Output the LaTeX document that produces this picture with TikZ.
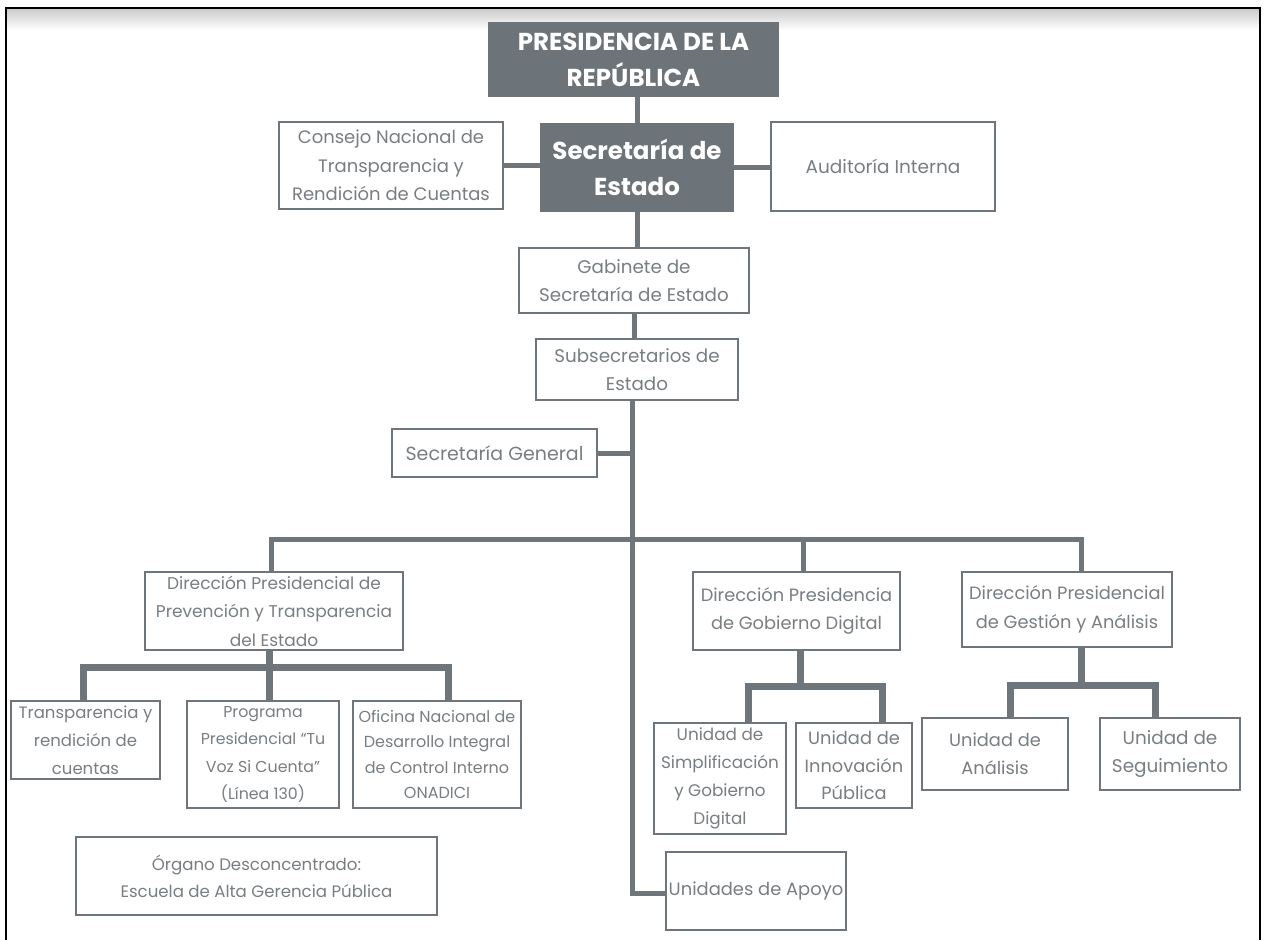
\documentclass[tikz,border=0pt]{standalone}
\usepackage{fontspec}
\setmainfont{Poppins}
\usetikzlibrary{calc}
\definecolor{boxgray}{RGB}{110,118,123}
\definecolor{darkfill}{RGB}{108,116,121}
\definecolor{txtgray}{RGB}{120,126,130}
\newcommand{\fs}[2]{\fontsize{#1}{#2}\selectfont}
\tikzset{
  orgbox/.style={draw=boxgray, line width=2.6pt, fill=white, text=txtgray, align=center, inner sep=0pt,
    font=\fs{18}{28.5}},
  darkbox/.style={fill=darkfill, draw=none, text=white, align=center, inner sep=0pt,
    font=\bfseries\fs{24.5}{36}},
  conn/.style={draw=boxgray, line width=5pt},
  subconn/.style={draw=boxgray, line width=7pt},
}
\begin{document}
\begin{tikzpicture}[x=1pt,y=-1pt]
\useasboundingbox (0,0) rectangle (1268,940);
% frame
\shade[top color=black!20, bottom color=white] (7,9) rectangle (1259,30);
\draw[black, line width=2.2pt] (6,940) -- (6,8) -- (1260,8) -- (1260,940);

% top level
\node[darkbox, minimum width=291pt, minimum height=75pt] (pres) at (633.5,59.5) {PRESIDENCIA DE LA\\REPÚBLICA};
\node[darkbox, minimum width=194pt, minimum height=89pt] (sec) at (637,167.5) {Secretaría de\\Estado};
\node[orgbox, minimum width=224pt, minimum height=87pt] (consejo) at (391,165.5) {Consejo Nacional de\\Transparencia y\\Rendición de Cuentas};
\node[orgbox, minimum width=224pt, minimum height=89pt, font=\fs{18.5}{28.5}] (audit) at (883,166.5) {Auditoría Interna};
\node[orgbox, minimum width=230pt, minimum height=65pt, font=\fs{18.3}{28.5}] (gab) at (634,280.5) {Gabinete de\\Secretaría de Estado};
\node[orgbox, minimum width=202pt, minimum height=61pt, font=\fs{18.3}{28.5}] (sub) at (637,369.5) {Subsecretarios de\\Estado};
\node[orgbox, minimum width=205pt, minimum height=48pt, font=\fs{19}{28.5}] (secgen) at (494.5,453) {Secretaría General};

% directions
\node[orgbox, minimum width=258pt, minimum height=78pt, font=\fs{17}{28.5}] (dprev) at (274,611) {Dirección Presidencial de\\Prevención y Transparencia\\del Estado};
\node[orgbox, minimum width=207pt, minimum height=78pt, font=\fs{17.8}{28.5}] (dgd) at (796.5,611) {Dirección Presidencia\\de Gobierno Digital};
\node[orgbox, minimum width=210pt, minimum height=75pt, font=\fs{17.8}{28.5}] (dges) at (1067,609.5) {Dirección Presidencial\\de Gestión y Análisis};

% units
\node[orgbox, minimum width=149pt, minimum height=78pt, font=\fs{16.5}{28}] (trans) at (85.5,740) {Transparencia y\\rendición de\\cuentas};
\node[orgbox, minimum width=152pt, minimum height=107pt, font=\fs{15.8}{27.5}] (prog) at (263,754.5) {Programa\\Presidencial “Tu\\Voz Si Cuenta”\\(Línea 130)};
\node[orgbox, minimum width=168pt, minimum height=107pt, font=\fs{16}{25.5}] (ofic) at (437,754.5) {Oficina Nacional de\\Desarrollo Integral\\de Control Interno\\ONADICI};
\node[orgbox, minimum width=361pt, minimum height=78pt, font=\fs{16.6}{27}] (organo) at (256.5,876) {Órgano Desconcentrado:\\Escuela de Alta Gerencia Pública};
\node[orgbox, minimum width=132pt, minimum height=111pt, font=\fs{16.8}{28}] (simp) at (720,778.5) {Unidad de\\Simplificación\\y Gobierno\\Digital};
\node[orgbox, minimum width=116pt, minimum height=85pt, font=\fs{17.8}{27.5}] (innov) at (854,765.5) {Unidad de\\Innovación\\Pública};
\node[orgbox, minimum width=146pt, minimum height=72pt, font=\fs{17.8}{28}] (anal) at (995,754) {Unidad de\\Análisis};
\node[orgbox, minimum width=140pt, minimum height=72pt, font=\fs{18.4}{28}] (seg) at (1170,754) {Unidad de\\Seguimiento};
\node[orgbox, minimum width=180pt, minimum height=78pt, font=\fs{17.9}{28}] (apoyo) at (756,891) {Unidades de Apoyo};

% junction points
\coordinate (bend) at (632,893);
\coordinate (jl) at (271,539);
\coordinate (jm) at (803,539);
\coordinate (jr) at (1081,539);
\coordinate (pb) at (269,667);
\coordinate (pl) at (83,667);
\coordinate (pr) at (448,667);
\coordinate (gb) at (800,686);
\coordinate (gl) at (748,686);
\coordinate (gr) at (882,686);
\coordinate (eb) at (1081,685);
\coordinate (el) at (1010,685);
\coordinate (er) at (1155,685);

% top connectors
\draw[conn] (sec.north) -- (sec.north |- pres.south);
\draw[conn] (consejo.east) -- (consejo.east -| sec.west);
\draw[conn] (sec.east) -- (sec.east -| audit.west);
\draw[conn] (sec.south) -- (sec.south |- gab.north);
\draw[conn] (gab.south) -- (gab.south |- sub.north);
\draw[conn] (sub.south -| bend) -- (bend) -- (bend -| apoyo.west);
\draw[conn] (secgen.east) -- (secgen.east -| bend);
\draw[conn] (jl |- dprev.north) -- (jl) -- (jr) -- (jr |- dges.north);
\draw[conn] (jm) -- (jm |- dgd.north);

% sub connectors
\draw[subconn] (dprev.south -| pb) -- (pb |- prog.north);
\draw[subconn] (pl |- trans.north) -- (pl) -- (pr) -- (pr |- ofic.north);
\draw[subconn] (dgd.south -| gb) -- (gb);
\draw[subconn] (gl |- simp.north) -- (gl) -- (gr) -- (gr |- innov.north);
\draw[subconn] (dges.south -| eb) -- (eb);
\draw[subconn] (el |- anal.north) -- (el) -- (er) -- (er |- seg.north);
\end{tikzpicture}
\end{document}
